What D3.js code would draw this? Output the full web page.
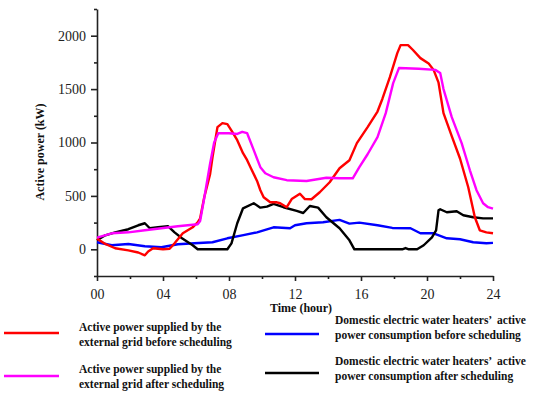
<!DOCTYPE html>
<html>
<head>
<meta charset="utf-8">
<script src="https://d3js.org/d3.v7.min.js"></script>
<style>
 body { margin: 0; background: #fff; }
 .axis path, .axis line { stroke: #222; stroke-width: 1.6; fill: none; }
 .axis text { font-family: "Liberation Serif", "Times New Roman", serif; font-size: 14px; fill: #222; }
 .title { font-family: "Liberation Serif", serif; font-weight: bold; font-size: 12px; fill: #111; }
 .legtext { font-family: "Liberation Serif", serif; font-weight: bold; font-size: 11.5px; fill: #111; white-space: pre; }
</style>
</head>
<body>
<svg id="chart"></svg>
<script>
// hours of day and active power (kW)
var redHours = [0, 0.5, 1.1, 1.9, 2.5, 2.9, 3.1, 3.4, 4.0, 4.4, 4.7, 5.2, 5.8, 6.1, 6.25, 6.5, 6.85, 7.0, 7.3, 7.6, 7.9, 8.2, 8.5, 8.85, 9.1, 9.3, 9.7, 9.9, 10.1, 10.5, 10.9, 11.1, 11.5, 11.8, 12.3, 12.6, 13.0, 13.5, 14.1, 14.7, 15.3, 15.75, 16.4, 17.0, 17.3, 17.75, 18.2, 18.4, 18.85, 19.15, 19.6, 20.1, 20.4, 20.7, 21.0, 21.5, 22.0, 22.5, 22.9, 23.2, 23.6, 24];
var redPower = [100, 50, 10, -10, -30, -56, -20, 10, 0, 5, 56, 150, 206, 253, 290, 487, 700, 862, 1144, 1181, 1172, 1100, 1022, 900, 834, 769, 640, 553, 487, 440, 440, 431, 394, 470, 520, 470, 469, 534, 628, 759, 834, 994, 1144, 1290, 1410, 1612, 1837, 1912, 1912, 1866, 1790, 1740, 1680, 1560, 1275, 1060, 850, 581, 300, 178, 159, 150];

var pinkHours = [0, 0.9, 1.9, 2.9, 3.9, 4.9, 6.1, 6.25, 6.5, 6.85, 7.1, 7.35, 8.0, 8.5, 8.8, 9.1, 9.5, 9.9, 10.2, 10.7, 11.5, 12.7, 13.9, 14.7, 15.5, 15.9, 16.4, 17.0, 17.5, 17.95, 18.3, 19.5, 20.5, 20.8, 21.0, 21.5, 22.1, 22.6, 23.0, 23.4, 23.7, 24];
var pinkPower = [110, 150, 159, 178, 197, 216, 234, 265, 480, 800, 1000, 1087, 1087, 1080, 1100, 1087, 928, 769, 712, 675, 647, 640, 670, 665, 665, 769, 890, 1050, 1275, 1556, 1697, 1690, 1680, 1650, 1500, 1237, 994, 740, 553, 431, 394, 380];

var blueHours = [0, 0.9, 1.9, 2.9, 3.9, 4.9, 5.9, 7.0, 7.9, 8.8, 9.7, 10.7, 11.7, 12.0, 12.7, 13.7, 14.7, 15.3, 15.9, 17.0, 17.9, 19.0, 19.6, 20.4, 21.2, 22.0, 22.8, 23.6, 24];
var bluePower = [66, 38, 50, 28, 19, 47, 56, 66, 103, 131, 159, 206, 197, 225, 244, 253, 275, 240, 250, 225, 200, 197, 150, 150, 103, 94, 66, 56, 60];

var blackHours = [0, 0.5, 1.1, 1.9, 2.5, 2.9, 3.2, 3.7, 4.3, 4.7, 5.15, 5.8, 6.1, 7.9, 8.15, 8.5, 8.85, 9.5, 9.9, 10.3, 10.7, 11.3, 12.1, 12.5, 12.9, 13.4, 13.9, 14.7, 15.3, 15.6, 18.5, 18.7, 18.9, 19.4, 19.8, 20.3, 20.55, 20.7, 20.8, 21.2, 21.8, 22.2, 22.8, 23.4, 24];
var blackPower = [84, 131, 159, 188, 225, 244, 197, 206, 216, 159, 103, 38, 0, 0, 56, 244, 384, 431, 390, 400, 425, 394, 360, 340, 405, 390, 300, 197, 84, 0, 0, 12, 0, 0, 38, 112, 178, 366, 375, 347, 356, 319, 300, 290, 290];

var xTicks = [0, 4, 8, 12, 16, 20, 24];
var yTicks = [0, 500, 1000, 1500, 2000];

var legendLabels = [
  ["Active power supplied by the", "external grid before scheduling"],
  ["Active power supplied by the", "external grid after scheduling"],
  ["Domestic electric water heaters\u2019  active", "power consumption before scheduling"],
  ["Domestic electric water heaters\u2019  active", "power consumption after scheduling"]
];
var colors = ["#ff0000", "#ff00ff", "#0000ff", "#000000"];

var W = 550, H = 394;
var svg = d3.select("#chart").attr("width", W).attr("height", H);

var x = d3.scaleLinear().domain([0, 24]).range([97, 493]);
var y = d3.scaleLinear().domain([-250, 2250]).range([276, 9]);

// minor ticks
svg.append("g").attr("class", "axis")
   .attr("transform", "translate(0,276)")
   .call(d3.axisBottom(x).tickValues(d3.range(2, 24, 4)).tickSize(3).tickFormat(""))
   .select(".domain").remove();
svg.append("g").attr("class", "axis")
   .attr("transform", "translate(97,0)")
   .call(d3.axisLeft(y).tickValues(d3.range(-250, 2251, 500)).tickSize(3).tickFormat(""))
   .select(".domain").remove();

svg.append("g").attr("class", "axis")
   .attr("transform", "translate(0,276)")
   .attr("font-family", "Liberation Serif")
   .call(d3.axisBottom(x).tickValues(xTicks).tickSize(5).tickPadding(8)
         .tickSizeOuter(0).tickFormat(function(d) { return d3.format("02d")(d); }));
svg.append("g").attr("class", "axis")
   .attr("transform", "translate(97,0)")
   .call(d3.axisLeft(y).tickValues(yTicks).tickSize(6).tickPadding(5)
         .tickSizeOuter(0).tickFormat(d3.format("d")));

svg.append("text").attr("class", "title")
   .attr("x", 301).attr("y", 312).attr("text-anchor", "middle")
   .text("Time (hour)");
svg.append("text").attr("class", "title")
   .attr("transform", "translate(44,152) rotate(-90)")
   .attr("text-anchor", "middle")
   .text("Active power (kW)");

var line = d3.line()
   .x(function(d) { return x(d[0]); })
   .y(function(d) { return y(d[1]); });

var series = [
  d3.zip(redHours, redPower),
  d3.zip(pinkHours, pinkPower),
  d3.zip(blueHours, bluePower),
  d3.zip(blackHours, blackPower)
];
[2, 3, 0, 1].forEach(function(i) {
  svg.append("path")
     .attr("d", line(series[i]))
     .attr("fill", "none")
     .attr("stroke", colors[i])
     .attr("stroke-width", 2.4)
     .attr("stroke-linejoin", "round");
});

// legend
var legPos = [
  {x1: 4, x2: 59, ly: 333, tx: 79, ty: 331},
  {x1: 4, x2: 59, ly: 376, tx: 79, ty: 373},
  {x1: 265, x2: 319, ly: 334, tx: 335, ty: 324},
  {x1: 265, x2: 319, ly: 373, tx: 335, ty: 365}
];
legPos.forEach(function(p, i) {
  svg.append("line").attr("x1", p.x1).attr("x2", p.x2)
     .attr("y1", p.ly).attr("y2", p.ly)
     .attr("stroke", colors[i]).attr("stroke-width", 2.4);
  var t = svg.append("text").attr("class", "legtext").attr("x", p.tx).attr("y", p.ty);
  t.append("tspan").attr("x", p.tx).text(legendLabels[i][0]);
  t.append("tspan").attr("x", p.tx).attr("dy", 15).text(legendLabels[i][1]);
});
</script>
</body>
</html>
